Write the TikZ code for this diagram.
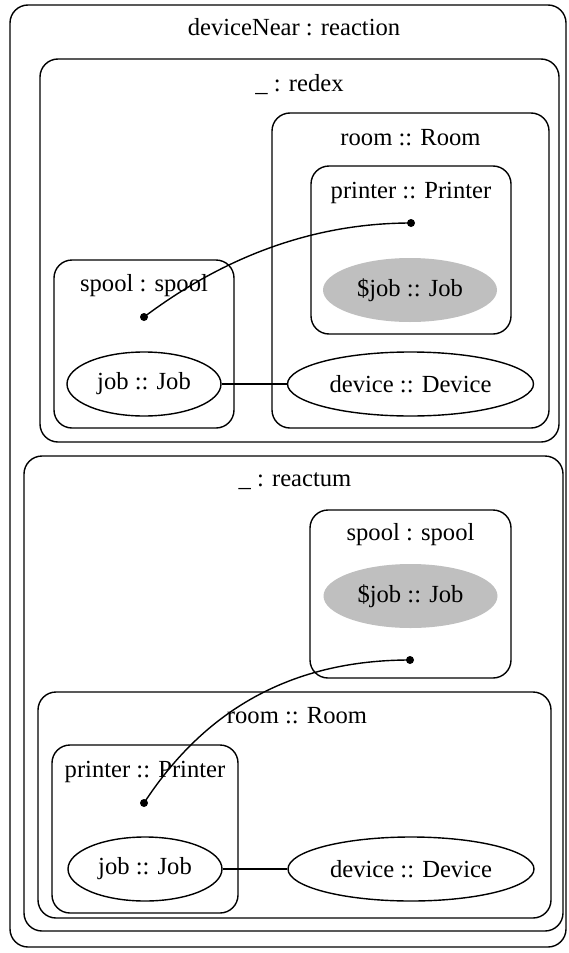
\documentclass[tikz,border=0pt]{standalone}
\usepackage{fontspec}
\setmainfont{Liberation Serif}
\usetikzlibrary{fit,shapes.geometric}
\begin{document}
\begin{tikzpicture}[x=1pt,y=-1pt,
  every node/.style={font=\fontsize{24.6}{28}\selectfont},
  box/.style={draw, line width=1.4pt, rounded corners=18pt, inner sep=0pt},
  title/.style={anchor=base, inner sep=0pt},
  ell/.style={draw, ellipse, line width=1.4pt, inner sep=0pt},
  gell/.style={ellipse, fill=gray!50!white, draw=none, inner sep=0pt},
  dot/.style={circle, fill=black, inner sep=0pt, minimum size=8pt},
  conn/.style={line width=1.4pt}]
\useasboundingbox (0,0) rectangle (568,953);
% outer
\node[box, fit={(10,5) (566,947)}] (outer) {};
\node[title] (touter) at (294,35) {deviceNear : reaction};
% redex
\node[box, fit={(40,59) (559,442)}] (redex) {};
\node[title] (tredex) at (299.5,91) {\_ : redex};
\node[box, fit={(272,113) (549,428)}] (room1) {};
\node[title] (troom1) at (410.5,145) {room :: Room};
\node[box, fit={(311,166) (511,334)}] (printer1) {};
\node[title] (tprinter1) at (411,198) {printer :: Printer};
\node[dot] (d2) at (411,223) {};
\node[gell, minimum width=174pt, minimum height=64pt] (sjob1) at (410,290) {\$job :: Job};
\node[box, fit={(54,260) (234,428)}] (spool1) {};
\node[title] (tspool1) at (144,291) {spool : spool};
\node[dot] (d1) at (144,317) {};
\node[ell, minimum width=154pt, minimum height=64pt] (job1) at (144,384) {job :: Job};
\node[ell, minimum width=246pt, minimum height=64pt] (dev1) at (410.5,384) {device :: Device};
\draw[conn] (job1) -- (dev1);
\draw[conn] (d1.center) .. controls (200,275) and (290,223) .. (d2.center);
% reactum
\node[box, fit={(24,456) (563,931)}] (reactum) {};
\node[title] (treactum) at (295,486) {\_ : reactum};
\node[box, fit={(310,510) (511,678)}] (spool2) {};
\node[title] (tspool2) at (410.5,540) {spool : spool};
\node[gell, minimum width=174pt, minimum height=64pt] (sjob2) at (410.5,596) {\$job :: Job};
\node[dot] (d4) at (410,660) {};
\node[box, fit={(38,692) (551,918)}] (room2) {};
\node[title] (troom2) at (297,723) {room :: Room};
\node[box, fit={(52,745) (238,913)}] (printer2) {};
\node[title] (tprinter2) at (145,777) {printer :: Printer};
\node[dot] (d3) at (144,803) {};
\node[ell, minimum width=154pt, minimum height=64pt] (job2) at (145,869) {job :: Job};
\node[ell, minimum width=246pt, minimum height=64pt] (dev2) at (411,869) {device :: Device};
\draw[conn] (job2) -- (dev2);
\draw[conn] (d3.center) .. controls (195,725) and (275,660) .. (d4.center);
\end{tikzpicture}
\end{document}
